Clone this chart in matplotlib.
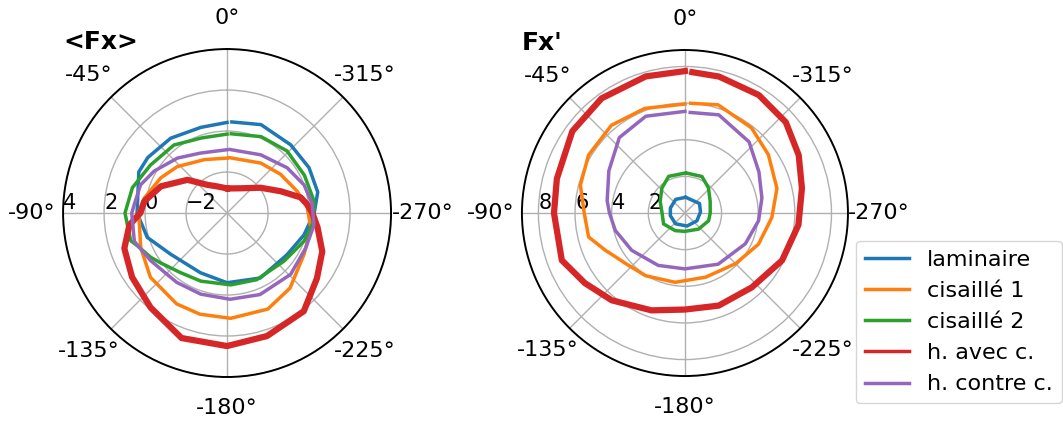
import matplotlib.pyplot as plt
import numpy as np

plt.rcParams["font.size"] = 15

labels = ["laminaire", "cisaillé 1", "cisaillé 2", "h. avec c.", "h. contre c."]
colors = ["C0", "C1", "C2", "C3", "C4"]
theta_ticks = [0, -45, -90, -135, -180, -225, -270, -315]

# <Fx> : mean force vs angle (deg)
mean_lam_ang = [0, -17, -37, -55, -65, -90, -107, -126, -156, -180, -207, -235, -254, -270, -283, -299, -317, -339, -357]
mean_lam_r = [0.42, 0.37, 0.57, 0.72, 0.75, 0.39, 0.07, -0.59, -0.81, -0.60, -0.44, -0.44, -0.10, 0.25, 0.54, 0.57, 0.55, 0.62, 0.45]

mean_c1_ang = [0, -23, -47, -62, -80, -90, -112, -130, -151, -165, -182, -203, -220, -242, -260, -274, -287, -306, -326, -357]
mean_c1_r = [-1.32, -1.17, -0.68, -0.34, 0.11, 0.31, 0.54, 0.88, 1.07, 1.11, 1.14, 1.09, 0.78, 0.26, 0.15, -0.08, -0.41, -0.78, -1.06, -1.30]

mean_c2_ang = [0, -19, -38, -58, -75, -90, -106, -110, -120, -127, -142, -159, -183, -204, -230, -250, -265, -278, -296, -316, -336, -357]
mean_c2_r = [-0.15, -0.13, 0.21, 0.41, 0.78, 0.98, 0.89, 0.66, 0.31, 0.05, -0.31, -0.44, -0.49, -0.44, -0.36, 0.0, 0.26, 0.28, 0.20, 0.21, 0.08, -0.13]

mean_hav_ang = [0, -20, -35, -50, -68, -82, -90, -97, -109, -124, -141, -160, -180, -198, -218, -234, -248, -261, -270, -276, -282, -292, -307, -331, -357]
mean_hav_r = [-2.8, -2.62, -2.32, -1.48, -0.52, 0.08, 0.23, 0.8, 1.30, 1.59, 1.93, 2.49, 2.49, 2.31, 2.08, 1.42, 1.01, 0.47, 0.16, -0.06, -0.33, -1.17, -1.95, -2.62, -2.8]

mean_hcc_ang = [0, -24, -42, -60, -72, -85, -90, -107, -122, -144, -162, -182, -202, -226, -246, -262, -276, -290, -307, -330, -357]
mean_hcc_r = [-0.91, -0.80, -0.39, 0.10, 0.44, 0.55, 0.65, 0.73, 0.39, 0.18, 0.16, 0.21, 0.29, 0.31, 0.20, 0.28, 0.18, 0.0, -0.33, -0.72, -0.90]

# Fx' : fluctuation vs angle (deg)
rms_lam_ang = [0, -34, -71, -100, -139, -189, -237, -274, -303, -357]
rms_lam_r = [0.85, 0.9, 0.84, 0.81, 0.78, 0.72, 0.78, 0.85, 0.95, 0.86]

rms_c1_ang = [0, -21, -40, -59, -75, -90, -104, -115, -133, -148, -172, -198, -225, -247, -267, -285, -305, -322, -343, -357]
rms_c1_r = [5.95, 6.12, 6.25, 6.14, 5.91, 5.5, 5.42, 4.8, 4.2, 4.04, 3.82, 3.68, 3.91, 4.36, 4.75, 5.2, 5.56, 5.9, 6.18, 6.0]

rms_c2_ang = [0, -24, -43, -65, -90, -117, -151, -180, -220, -252, -270, -295, -317, -335, -357]
rms_c2_r = [2.18, 2.19, 1.85, 1.49, 1.25, 1.31, 1.1, 1.0, 1.15, 1.36, 1.38, 1.52, 1.88, 2.2, 2.18]

rms_hav_ang = [0, -16, -36, -54, -75, -90, -111, -125, -140, -161, -180, -200, -222, -244, -264, -282, -297, -312, -328, -346, -357]
rms_hav_r = [7.75, 7.76, 7.74, 7.6, 7.24, 7.15, 7.2, 6.67, 6.22, 5.62, 5.27, 5.38, 5.46, 5.9, 6.23, 6.53, 6.97, 7.41, 7.6, 7.68, 7.7]

rms_hcc_ang = [0, -22, -41, -61, -81, -90, -104, -125, -153, -180, -213, -243, -264, -281, -299, -318, -341, -357]
rms_hcc_r = [5.55, 5.7, 5.46, 4.75, 4.3, 4.12, 3.92, 3.55, 3.21, 3.05, 3.33, 3.7, 4.04, 4.28, 4.62, 5.23, 5.67, 5.5]

mean_series = [(mean_lam_ang, mean_lam_r), (mean_c1_ang, mean_c1_r), (mean_c2_ang, mean_c2_r),
               (mean_hav_ang, mean_hav_r), (mean_hcc_ang, mean_hcc_r)]
rms_series = [(rms_lam_ang, rms_lam_r), (rms_c1_ang, rms_c1_r), (rms_c2_ang, rms_c2_r),
              (rms_hav_ang, rms_hav_r), (rms_hcc_ang, rms_hcc_r)]

fig = plt.figure(figsize=(10.63, 4.21), dpi=100)
ax1 = fig.add_axes([0.0593, 0.1045, 0.3086, 0.779], projection="polar")
ax2 = fig.add_axes([0.491, 0.1045, 0.3067, 0.779], projection="polar")


def draw(ax, series, title, rticks, rlim):
    for (ang, r), lab, c in zip(series, labels, colors):
        lw = 4.5 if c == "C3" else 2.5
        ax.plot(np.deg2rad(-np.array(ang)), r, color=c, lw=lw, label=lab)
    ax.set_theta_zero_location("N")
    ax.set_thetagrids([-a for a in theta_ticks],
                      labels=["0°" if a == 0 else f"{a}°" for a in theta_ticks])
    ax.tick_params(axis="x", pad=12, labelsize=16)
    ax.set_rlim(*rlim)
    ax.set_rticks(rticks)
    ax.set_rlabel_position(90)
    ax.grid(True, color="#b0b0b0", lw=1)
    ax.spines["polar"].set_linewidth(1.4)
    ax.set_title(title, loc="left", fontweight="bold", fontsize=18, y=1.0, pad=0)


draw(ax1, mean_series, "<Fx>", [-2, 0, 2, 4], (-4, 4))
draw(ax2, rms_series, "Fx'", [2, 4, 6, 8], (0, 8.9))

leg = ax2.legend(loc="upper left", bbox_to_anchor=(856 / 1063, 1 - 241 / 421),
                 bbox_transform=fig.transFigure, borderaxespad=0, fontsize=16)
for line in leg.get_lines():
    line.set_linewidth(2.5)

fig.savefig("out.png", dpi=100)
